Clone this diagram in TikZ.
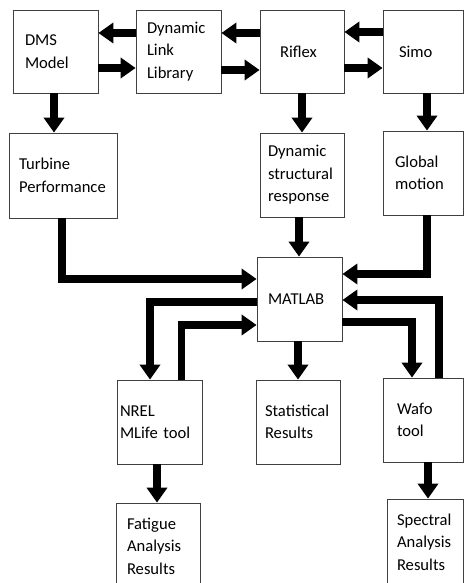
\documentclass[tikz,border=0pt]{standalone}
\usepackage{fontspec}
\setmainfont{Carlito}
\usetikzlibrary{arrows.meta}
\begin{document}
\begin{tikzpicture}[x=1pt,y=-1pt,
  box/.style={draw=black!75, line width=0.8pt, align=left, inner ysep=0pt,
    font=\fontsize{16.6}{22.5}\selectfont},
  arr/.style={line width=7.5pt, line join=miter, draw=black,
    -{Triangle[length=15pt,width=20pt]}}]
\useasboundingbox (0,0) rectangle (464,583);
% top row
\node[box, minimum height=83pt, text width=61pt, inner xsep=12pt] (dms) at (55.5,51.5) {DMS\\Model};
\node[box, minimum height=83pt, text width=63pt, inner xsep=11pt] (dll) at (178.5,51.5) {Dynamic\\Link\\Library};
\node[box, minimum height=83pt, text width=44pt, inner xsep=20pt] (riflex) at (302,51.5) {Riflex};
\node[box, minimum height=83pt, text width=48pt, inner xsep=16pt] (simo) at (423,51.5) {Simo};
% second row
\node[box, minimum height=85pt, text width=88pt, inner xsep=10pt] (turbine) at (63,175.5) {Turbine\\Performance};
\node[box, minimum height=84pt, text width=68pt, inner xsep=8pt] (dyn) at (302,175) {Dynamic\\structural\\response};
\node[box, minimum height=84pt, text width=56pt, inner xsep=12pt] (global) at (423,173) {Global\\motion};
% matlab
\node[box, minimum height=84pt, text width=63pt, inner xsep=11pt] (matlab) at (299.5,299) {MATLAB};
% third row
\node[box, minimum height=84pt, text width=79pt, inner xsep=3pt] (nrel) at (159.5,422) {NREL\\MLife tool};
\node[box, minimum height=84pt, text width=66pt, inner xsep=9pt] (stat) at (298,422) {Statistical\\Results};
\node[box, minimum height=84pt, text width=52pt, inner xsep=14pt] (wafo) at (423,420) {Wafo\\tool};
% bottom row
\node[box, minimum height=86pt, text width=62pt, inner xsep=11pt] (fatigue) at (158,546) {Fatigue\\Analysis\\Results};
\node[box, minimum height=86pt, text width=56pt, inner xsep=10pt] (spectral) at (425,542) {Spectral\\Analysis\\Results};
% top connectors
\draw[arr] ([yshift=18.5pt]dll.west) -- ([yshift=18.5pt]dms.east);
\draw[arr] ([yshift=-16.5pt]dms.east) -- ([yshift=-16.5pt]dll.west);
\draw[arr] ([yshift=18.5pt]riflex.west) -- ([yshift=18.5pt]dll.east);
\draw[arr] ([yshift=-18.5pt]dll.east) -- ([yshift=-18.5pt]riflex.west);
\draw[arr] ([yshift=19.5pt]simo.west) -- ([yshift=19.5pt]riflex.east);
\draw[arr] ([yshift=-16.5pt]riflex.east) -- ([yshift=-16.5pt]simo.west);
% down to second row
\draw[arr] ([xshift=-1.5pt]dms.south) -- ([xshift=-1.5pt]dms.south |- turbine.north);
\draw[arr] (riflex.south) -- (riflex.south |- dyn.north);
\draw[arr] ([xshift=4pt]simo.south) -- ([xshift=4pt]simo.south |- global.north);
% into matlab
\draw[arr] ([xshift=-1pt]turbine.south) |- ([yshift=20pt]matlab.west);
\draw[arr] ([xshift=-3pt]dyn.south) -- ([xshift=-3pt]dyn.south |- matlab.north);
\draw[arr] ([xshift=4pt]global.south) |- ([yshift=25pt]matlab.east);
% matlab loops
\draw[arr] ([yshift=-3pt]matlab.west) -| ([xshift=-9.5pt]nrel.north);
\draw[arr] ([xshift=22pt]nrel.north) |- ([yshift=-26pt]matlab.west);
\draw[arr] (stat.north |- matlab.south) -- (stat.north);
\draw[arr] ([yshift=-23pt]matlab.east) -| ([xshift=-11pt]wafo.north);
\draw[arr] ([xshift=16pt]wafo.north) |- ([yshift=-1pt]matlab.east);
% to results
\draw[arr] ([xshift=-2.5pt]nrel.south) -- ([xshift=-2.5pt]nrel.south |- fatigue.north);
\draw[arr] ([xshift=5pt]wafo.south) -- ([xshift=5pt]wafo.south |- spectral.north);
\end{tikzpicture}
\end{document}
